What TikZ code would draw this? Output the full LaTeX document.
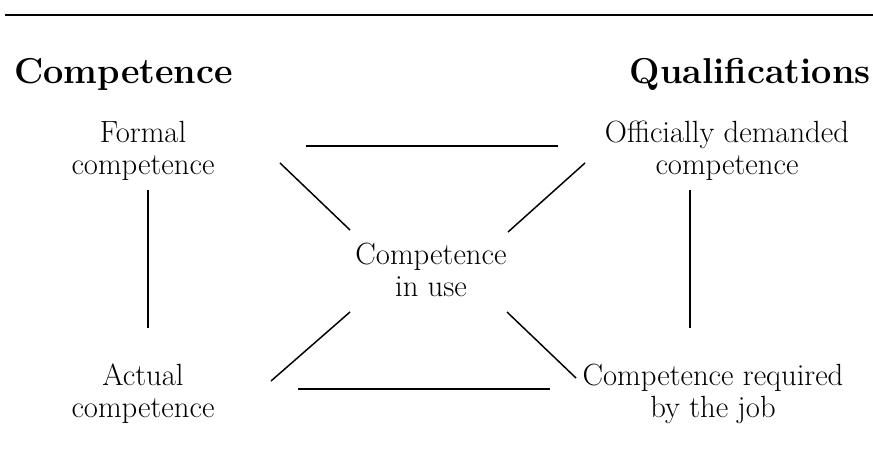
\documentclass[tikz,border=0pt]{standalone}
\usepackage{tikz}
\usetikzlibrary{calc}
\tikzset{
  title/.style={font=\fontsize{27}{32}\selectfont\bfseries,inner sep=0pt},
  term/.style={font=\fontsize{23}{24}\selectfont,align=center,inner sep=0pt},
  link/.style={line width=1.1pt,draw=black},
  rule/.style={line width=1.8pt,draw=black}
}
\begin{document}
\begin{tikzpicture}[x=0.75pt,y=-0.75pt]
  \useasboundingbox (0,0) rectangle (873,463);
  \draw[rule] (5,15) -- (873,15);

  \node[title,anchor=base west] (comptitle) at (14,84) {Competence};
  \node[title,anchor=base east] (qualtitle) at (871,84) {Qualifications};

  \node[term] (formal) at (143,151) {Formal\\competence};
  \node[term] (official) at (727,151) {Officially demanded\\competence};
  \node[term] (inuse) at (431,270) {Competence\\in use};
  \node[term] (actual) at (143,394) {Actual\\competence};
  \node[term] (required) at (713,394) {Competence required\\by the job};

  \draw[link] ([shift={(163,-5)}]formal.center) -- ([shift={(-169,-5)}]official.center);
  \draw[link] ([shift={(155,-5)}]actual.center) -- ([shift={(-163,-5)}]required.center);
  \draw[link] ([shift={(5,39)}]formal.center) -- ([shift={(5,-66)}]actual.center);
  \draw[link] ([shift={(-37,39)}]official.center) -- ([shift={(-23,-66)}]required.center);
  \draw[link] ([shift={(137,12)}]formal.center) -- ([shift={(-81,-40)}]inuse.center);
  \draw[link] ([shift={(-142,12)}]official.center) -- ([shift={(77,-38)}]inuse.center);
  \draw[link] ([shift={(-81,42)}]inuse.center) -- ([shift={(128,-13)}]actual.center);
  \draw[link] ([shift={(76,42)}]inuse.center) -- ([shift={(-137,-16)}]required.center);
\end{tikzpicture}
\end{document}
